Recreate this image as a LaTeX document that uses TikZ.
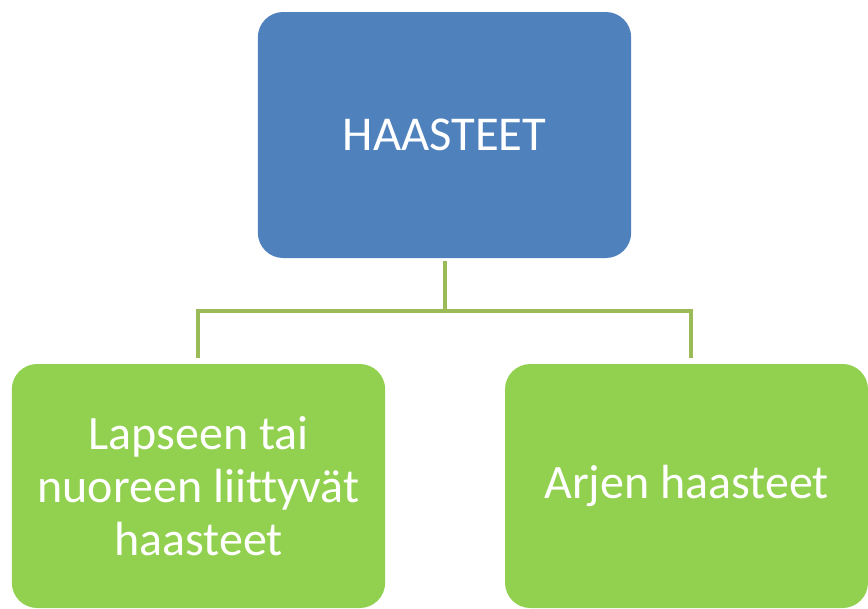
\documentclass[tikz,border=0pt]{standalone}
\usepackage{fontspec}
\setmainfont[Ligatures=NoCommon]{Carlito}
\definecolor{boxblue}{HTML}{4F81BD}
\definecolor{boxgreen}{HTML}{92D050}
\definecolor{linegreen}{HTML}{9BBB59}
\begin{document}
\begin{tikzpicture}[x=0.75pt,y=-0.75pt,
  topbox/.style={rectangle,rounded corners=19pt,fill=boxblue,draw=none,text=white,
    minimum width=280pt,minimum height=184.5pt,font=\fontsize{36.5pt}{43pt}\selectfont,align=center,inner sep=0pt},
  leafbox/.style={rectangle,rounded corners=19pt,fill=boxgreen,draw=none,text=white,
    minimum height=183pt,font=\fontsize{36pt}{40pt}\selectfont,align=center,inner sep=0pt},
  conn/.style={draw=linegreen,line width=3pt}]
\useasboundingbox (0,0) rectangle (868,608);
\node[topbox] (top) at (444.5,135) {HAASTEET};
\node[leafbox,minimum width=280pt] (left) at (198.5,486) {Lapseen tai\\nuoreen liittyvät\\haasteet};
\node[leafbox,minimum width=272.25pt] (right) at (686.5,486) {Arjen haasteet};
\coordinate (mid) at (444.5,311);
\draw[conn] ([yshift=-2.25pt]top.south) -- (mid);
\draw[conn] (mid) -| ([xshift=-0.5pt,yshift=4.5pt]left.north);
\draw[conn] (mid) -| ([xshift=3.5pt,yshift=4.5pt]right.north);
\end{tikzpicture}
\end{document}
